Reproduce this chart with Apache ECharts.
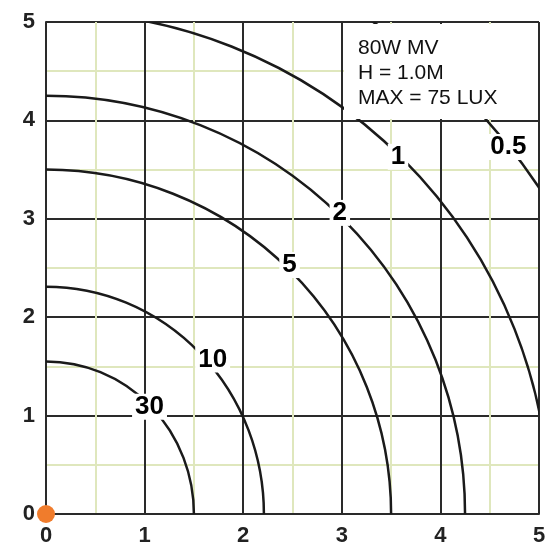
<!doctype html>
<html>
<head>
    <meta charset="utf-8">
    <title>isolux</title>
    <script src="https://cdn.jsdelivr.net/npm/echarts@6/dist/echarts.min.js"></script>
    <style>
        body{ margin:0; padding:0; background:#fff; }
        #chart{ width:553px; height:551px; }
    </style>
</head>
<body>
<div id="chart"></div>
<script>
    // isolux curves: level, radius along x, radius along y (metres)
    var levels  = ['30', '10', '5', '2', '1', '0.5'];
    var radiusX = [1.50, 2.21, 3.50, 4.25, 5.11, 6.00];
    var radiusY = [1.55, 2.31, 3.50, 4.25, 5.11, 6.00];
    // where each level number sits on its curve
    var labelX  = [1.05, 1.69, 2.47, 2.98, 3.57, 4.69];
    var labelY  = [1.09, 1.57, 2.53, 3.06, 3.63, 3.73];
    var ticks   = [0, 1, 2, 3, 4, 5];
    var info    = ['80W MV', 'H = 1.0M', 'MAX = 75 LUX'];

    var font = '"Liberation Sans", Arial, sans-serif';

    var arcData = [];
    var labelData = [];
    for (var i = 0; i < levels.length; i++) {
        arcData.push([radiusX[i], radiusY[i]]);
        labelData.push({value: [labelX[i], labelY[i]], name: levels[i]});
    }

    function axis(){
        return {
            type: 'value',
            min: ticks[0],
            max: ticks[ticks.length - 1],
            interval: 1,
            axisLine: { show: true, lineStyle: { color: '#2a2a2a', width: 2 } },
            axisTick: { show: false },
            axisLabel: {
                color: '#222', fontSize: 22, fontWeight: 'bold', fontFamily: font, margin: 11
            },
            splitLine: { show: true, lineStyle: { color: '#2a2a2a', width: 2 } },
            minorTick: { show: false, splitNumber: 2 },
            minorSplitLine: { show: true, lineStyle: { color: '#dfe7bd', width: 2 } }
        };
    }

    var myChart = echarts.init(document.getElementById('chart'));
    var option = {
        animation: false,
        grid: { left: 46, right: 14, top: 22, bottom: 37 },
        xAxis: axis(),
        yAxis: axis(),
        series: [
            {
                type: 'custom',
                clip: true,
                data: arcData,
                z: 3,
                renderItem: function(params, api){
                    var o = api.coord([0, 0]);
                    var rx = api.size([api.value(0), 0])[0];
                    var ry = api.size([0, api.value(1)])[1];
                    var d = 'M ' + (o[0] + rx) + ' ' + o[1] +
                        ' A ' + rx + ' ' + ry + ' 0 0 0 ' + o[0] + ' ' + (o[1] - ry);
                    return {
                        type: 'path',
                        shape: { pathData: d },
                        style: { fill: null, stroke: '#1a1a1a', lineWidth: 2.5 }
                    };
                }
            },
            {
                type: 'scatter',
                data: labelData,
                symbolSize: 0,
                z: 4,
                itemStyle: { opacity: 1 },
                label: {
                    show: true,
                    position: 'inside',
                    formatter: '{b}',
                    color: '#000',
                    fontSize: 26,
                    fontWeight: 'bold',
                    fontFamily: font,
                    backgroundColor: '#fff',
                    padding: [0, 3]
                }
            },
            {
                type: 'scatter',
                data: [[0, 0]],
                symbolSize: 18,
                clip: false,
                z: 5,
                itemStyle: { color: '#f07c2c', opacity: 1 }
            }
        ],
        graphic: [
            {
                type: 'rect',
                z: 100,
                shape: { x: 344, y: 24, width: 194, height: 95 },
                style: { fill: '#fff' }
            },
            {
                type: 'text',
                z: 101,
                left: 358,
                top: 36,
                style: {
                    text: info.join('\n'),
                    font: '21px ' + font,
                    lineHeight: 25,
                    fill: '#111'
                }
            }
        ]
    };
    myChart.setOption(option, true);
</script>
</body>
</html>
